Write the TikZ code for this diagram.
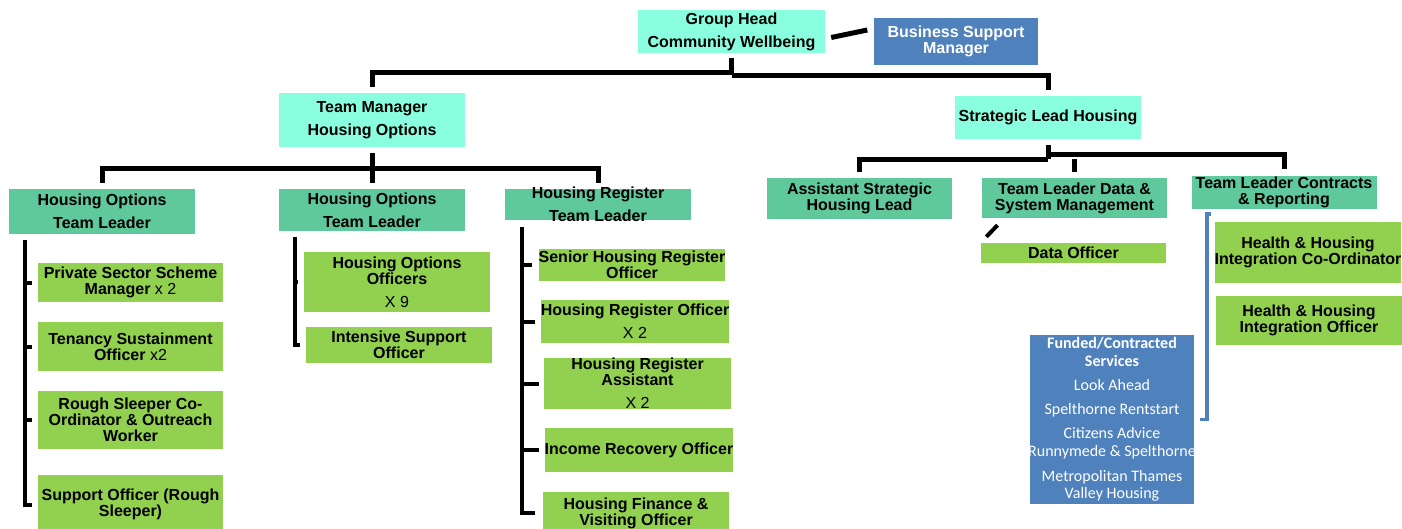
\documentclass[tikz,border=0pt]{standalone}
\usepackage{fontspec}
\setmainfont{Liberation Sans}
\newfontfamily\calibrifont{Carlito}
\usetikzlibrary{calc}

\definecolor{headaqua}{RGB}{138,255,224}
\definecolor{leadgreen}{RGB}{96,201,155}
\definecolor{postgreen}{RGB}{146,208,80}
\definecolor{supportblue}{RGB}{79,129,189}

\begin{document}
\begin{tikzpicture}[x=1pt,y=-1pt,
  box/.style={inner sep=0pt,align=center,font=\fontsize{16}{16}\selectfont\bfseries},
  wide/.style={font=\fontsize{16}{23}\selectfont\bfseries},
  head/.style={box,wide,fill=headaqua},
  lead/.style={box,fill=leadgreen},
  post/.style={box,fill=postgreen},
  link/.style={line width=5pt},
  spine/.style={line width=4pt}]
  \useasboundingbox (0,0) rectangle (1402,529);
  \node[head,minimum width=187pt,minimum height=43pt] (gh) at (731.5,31.5) {Group Head\\Community Wellbeing};
  \node[box,fill=supportblue,text=white,minimum width=164pt,minimum height=47pt] (bsm) at (956,41.5) {Business Support\\Manager};
  \node[head,minimum width=186pt,minimum height=54pt] (tm) at (372,120) {Team Manager\\Housing Options};
  \node[head,minimum width=186pt,minimum height=43pt] (slh) at (1048,117.5) {Strategic Lead Housing};
  \node[lead,wide,minimum width=186pt,minimum height=45pt] (hotl1) at (102,211.5) {Housing Options\\Team Leader};
  \node[lead,wide,minimum width=186pt,minimum height=42pt] (hotl2) at (372,210) {Housing Options\\Team Leader};
  \node[lead,minimum width=186pt,minimum height=31pt] (hrtl) at (598,204.5) {};
  \node[box,wide] (hrtl-text) at (hrtl) {Housing Register\\Team Leader};
  \node[lead,minimum width=185pt,minimum height=41pt] (ashl) at (859.5,198.5) {Assistant Strategic\\Housing Lead};
  \node[lead,minimum width=185pt,minimum height=40pt] (tldsm) at (1074.5,198) {Team Leader Data \&\\System Management};
  \node[lead,minimum width=185pt,minimum height=33pt] (tlcr) at (1284,192.5) {Team Leader Contracts\\\& Reporting};
  \node[post,minimum width=185pt,minimum height=20pt] (dof) at (1073.5,253) {Data Officer};
  \node[post,minimum width=186pt,minimum height=61pt] (hhc) at (1308,252.5) {Health \& Housing\\\makebox[186pt]{Integration Co-Ordinator}};
  \node[post,minimum width=186pt,minimum height=49pt] (hho) at (1309,320.5) {Health \& Housing\\Integration Officer};
  \node[box,fill=supportblue,text=white,font=\calibrifont\fontsize{16}{17.5}\selectfont,minimum width=164pt,minimum height=169pt] (fcs) at (1112,419.5) {\textbf{Funded/Contracted}\\\textbf{Services}\\[6.5pt]Look Ahead\\[6.5pt]Spelthorne Rentstart\\[7pt]Citizens Advice\\\makebox[164pt]{Runnymede \& Spelthorne}\\[7.5pt]Metropolitan Thames\\Valley Housing};
  \node[post,minimum width=185pt,minimum height=39pt] (pssm) at (130.5,282.5) {Private Sector Scheme\\Manager {\mdseries x 2}};
  \node[post,minimum width=185pt,minimum height=49pt] (tso) at (130.5,346.5) {Tenancy Sustainment\\Officer {\mdseries x2}};
  \node[post,minimum width=185pt,minimum height=58pt] (rs) at (130.5,420) {Rough Sleeper Co-\\Ordinator \& Outreach\\Worker};
  \node[post,minimum width=185pt,minimum height=59pt] (so) at (130.5,504.5) {Support Officer (Rough\\Sleeper)};
  \node[post,minimum width=186pt,minimum height=60pt] (hoo) at (397,282) {Housing Options\\Officers\\[7pt]{\mdseries X 9}};
  \node[post,minimum width=186pt,minimum height=36pt] (iso) at (399,345) {Intensive Support\\Officer};
  \node[post,minimum width=186pt,minimum height=32pt] (shro) at (632,265) {Senior Housing Register\\Officer};
  \node[post,minimum width=186pt,minimum height=43pt] (hro) at (635,321.5) {Housing Register Officer\\[7pt]{\mdseries X 2}};
  \node[post,minimum width=187pt,minimum height=51pt] (hra) at (637.5,383.5) {Housing Register\\Assistant\\[7pt]{\mdseries X 2}};
  \node[post,minimum width=186pt,minimum height=44pt] (iro) at (639,450) {Income Recovery Officer};
  \node[post,minimum width=186pt,minimum height=42pt] (hfvo) at (636,513) {Housing Finance \&\\Visiting Officer};

  \draw[link] ($(gh.east)+(6,6)$) -- ($(bsm.west)+(-6.5,-11.5)$);
  \draw[link] ([yshift=-5pt]gh.south) -- ([yshift=-22pt]gh.south);
  \draw[link] ([yshift=-19pt]gh.south) -| ([yshift=6pt]tm.north);
  \draw[link] ([yshift=-22pt]gh.south) -| ([yshift=6pt]slh.north);
  \draw[link] ([yshift=-6pt]tm.south) -- ([yshift=6pt]hotl2.north);
  \draw[link] ([yshift=6pt]hotl1.north) |- ($(tm.south)+(0,21)$) -| ([yshift=6pt]hrtl.north);
  \draw[link] ([yshift=-6pt]slh.south) -- ($(slh.south)+(0,20)$);
  \draw[link] ([yshift=6pt]ashl.north) |- ($(slh.south)+(0,20)$);
  \draw[link] ([yshift=6pt]tldsm.north) -- ($(tldsm.north)+(0,-19)$);
  \draw[link] ($(slh.south)+(0,15)$) -| ([yshift=7pt]tlcr.north);
  \draw[spine] ($(dof.north west)+(5.5,-6)$) -- ($(tldsm.south west)+(15.7,7)$);

  \coordinate (s1) at ($(hotl1.south west)+(16,6)$);
  \draw[spine] (s1) |- ([xshift=-6pt]so.west);
  \draw[spine] (s1 |- pssm.west) -- ([xshift=-6pt]pssm.west);
  \draw[spine] (s1 |- tso.west) -- ([xshift=-6pt]tso.west);
  \draw[spine] (s1 |- rs.west) -- ([xshift=-6pt]rs.west);

  \coordinate (s2) at ($(hotl2.south west)+(16,6)$);
  \draw[spine] (s2) |- ([xshift=-6pt]iso.west);
  \draw[spine] (s2 |- hoo.west) -- ([xshift=-6pt]hoo.west);

  \coordinate (s3) at ($(hrtl.south west)+(17,7)$);
  \draw[spine] (s3) |- ([xshift=-8pt]hfvo.west);
  \draw[spine] (s3 |- shro.west) -- ([xshift=-6pt]shro.west);
  \draw[spine] (s3 |- hro.west) -- ([xshift=-6pt]hro.west);
  \draw[spine] (s3 |- hra.west) -- ([xshift=-5pt]hra.west);
  \draw[spine] (s3 |- iro.west) -- ([xshift=-6pt]iro.west);

  \coordinate (s4) at ($(tlcr.south west)+(15.5,5)$);
  \draw[spine,supportblue,line width=3.5pt] ([xshift=4pt]s4) -- (s4) |- ([xshift=6pt]fcs.east);
\end{tikzpicture}
\end{document}
